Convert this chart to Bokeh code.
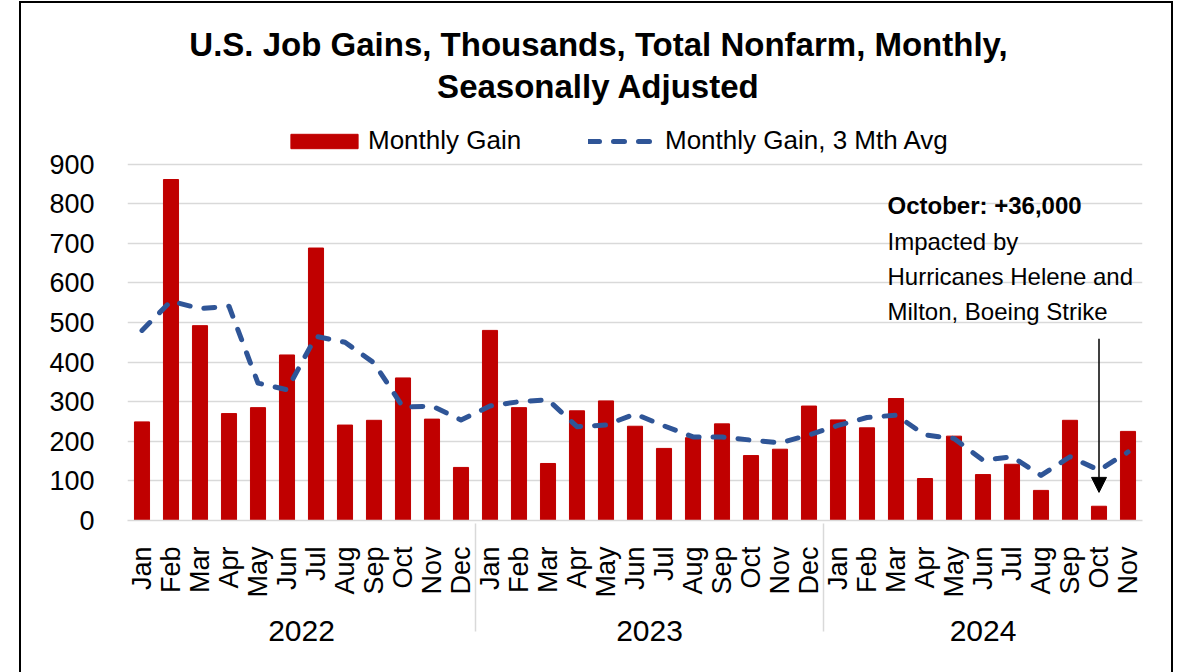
import math
from bokeh.plotting import figure
from bokeh.models import (FactorRange, Range1d, Label, Legend, LegendItem, FixedTicker,
                          Arrow, NormalHead, ColumnDataSource)
from bokeh.embed import file_html
from bokeh.resources import INLINE

# ---------------- data ----------------
years = ["2022"] * 12 + ["2023"] * 12 + ["2024"] * 11
months = ["Jan", "Feb", "Mar", "Apr", "May", "Jun", "Jul", "Aug", "Sep", "Oct", "Nov", "Dec",
          "Jan", "Feb", "Mar", "Apr", "May", "Jun", "Jul", "Aug", "Sep", "Oct", "Nov", "Dec",
          "Jan", "Feb", "Mar", "Apr", "May", "Jun", "Jul", "Aug", "Sep", "Oct", "Nov"]
monthly_gain = [249, 861, 492, 270, 285, 418, 688, 241, 253, 360, 256, 134,
                480, 285, 144, 277, 302, 238, 182, 209, 244, 164, 180, 289,
                254, 234, 308, 106, 213, 116, 142, 76, 253, 36, 225]
avg_3mth = [480, 554, 535, 541, 347, 330, 465, 450, 398, 286, 289, 254,
            289, 300, 305, 237, 241, 269, 239, 211, 211, 203, 196, 216,
            240, 260, 266, 216, 207, 152, 161, 114, 161, 127, 173]
y_ticks = [0, 100, 200, 300, 400, 500, 600, 700, 800, 900]

title_lines = ["U.S. Job Gains, Thousands, Total Nonfarm, Monthly,", "Seasonally Adjusted"]
note_lines = ["October: +36,000", "Impacted by", "Hurricanes Helene and", "Milton, Boeing Strike"]
note_factor = ("2024", "Oct")
arrow_top, arrow_bottom = 459, 71

factors = list(zip(years, months))
src = ColumnDataSource(dict(x=factors, gain=monthly_gain, avg=avg_3mth))

FONT = "Liberation Sans"
RED = "#c00000"
BLUE = "#2f5597"
GRID = "#d9d9d9"

# layout (pixels)
W, H = 1154, 671
TOP, BOTTOM, LEFT, RIGHT = 20, 154, 106, 33
PLOT_PX_900 = 355.0                      # pixel height of 0..900
frame_h = H - 2 - TOP - BOTTOM
y_max = 900 * frame_h / PLOT_PX_900      # room above the bars for title / legend

p = figure(x_range=FactorRange(*factors, factor_padding=0, group_padding=0, range_padding=0),
           y_range=Range1d(0, y_max), width=W, height=H,
           output_backend="svg", toolbar_location=None,
           min_border_left=LEFT, min_border_right=RIGHT,
           min_border_top=TOP, min_border_bottom=BOTTOM)
p.styles = {"border-top": "2px solid black", "border-left": "2px solid black",
            "border-right": "2px solid black", "margin-left": "19px", "margin-top": "1px"}

bars = p.vbar(x="x", top="gain", width=0.52, source=src, fill_color=RED, line_color=RED)
line = p.line(x="x", y="avg", source=src, line_color=BLUE, line_width=5,
              line_dash="11 14", line_cap="round", line_join="round")

# axes
p.outline_line_color = None
p.xgrid.grid_line_color = None
p.ygrid.grid_line_color = GRID
p.ygrid.grid_line_width = 1.5

p.yaxis.ticker = FixedTicker(ticks=y_ticks)
p.yaxis.axis_line_color = None
p.yaxis.major_tick_line_color = None
p.yaxis.minor_tick_line_color = None
p.yaxis.major_label_standoff = 27
p.yaxis.major_label_text_font = FONT
p.yaxis.major_label_text_font_size = "27px"
p.yaxis.major_label_text_color = "black"

xa = p.xaxis[0]
xa.axis_line_color = GRID
xa.axis_line_width = 1.5
xa.major_tick_line_color = None
xa.minor_tick_line_color = None
xa.major_label_orientation = math.pi / 2
xa.major_label_standoff = 20
xa.major_label_text_font = FONT
xa.major_label_text_font_size = "27px"
xa.major_label_text_color = "black"
xa.group_text_font = FONT
xa.group_text_font_size = "30px"
xa.group_text_font_style = "normal"
xa.group_text_color = "black"
xa.separator_line_color = GRID
xa.separator_line_width = 1.5

# legends (frame-relative pixels)
common = dict(padding=0, margin=0, spacing=0, border_line_color=None,
              background_fill_alpha=0, label_text_font=FONT,
              label_text_font_size="26px", label_text_color="black")
leg1 = Legend(items=[LegendItem(label="Monthly Gain", renderers=[bars])],
              location=(155, 364), glyph_width=84, glyph_height=18, label_standoff=2, **common)
leg2 = Legend(items=[LegendItem(label="Monthly Gain, 3 Mth Avg", renderers=[line])],
              location=(461, 364), glyph_width=67, glyph_height=18, label_standoff=10, **common)
p.add_layout(leg1, "center")
p.add_layout(leg2, "center")

# title
for txt, yb in zip(title_lines, [476, 434]):
    p.add_layout(Label(x=471, y=yb, x_units="screen", y_units="screen", text=txt,
                       text_align="center", text_baseline="alphabetic",
                       text_font=FONT, text_font_size="33px", text_font_style="bold",
                       text_color="black"))

# annotation
for i, (txt, yb) in enumerate(zip(note_lines, [315, 279, 244, 209])):
    p.add_layout(Label(x=760, y=yb, x_units="screen", y_units="screen", text=txt,
                       text_align="left", text_baseline="alphabetic",
                       text_font=FONT, text_font_size="24px",
                       text_font_style="bold" if i == 0 else "normal", text_color="black"))

ax = factors.index(note_factor) + 0.5
p.add_layout(Arrow(end=NormalHead(size=15, fill_color="black", line_color="black"),
                   x_start=ax, y_start=arrow_top, x_end=ax, y_end=arrow_bottom,
                   line_color="black", line_width=1.5))

open("out.html", "w").write(file_html(p, INLINE))
